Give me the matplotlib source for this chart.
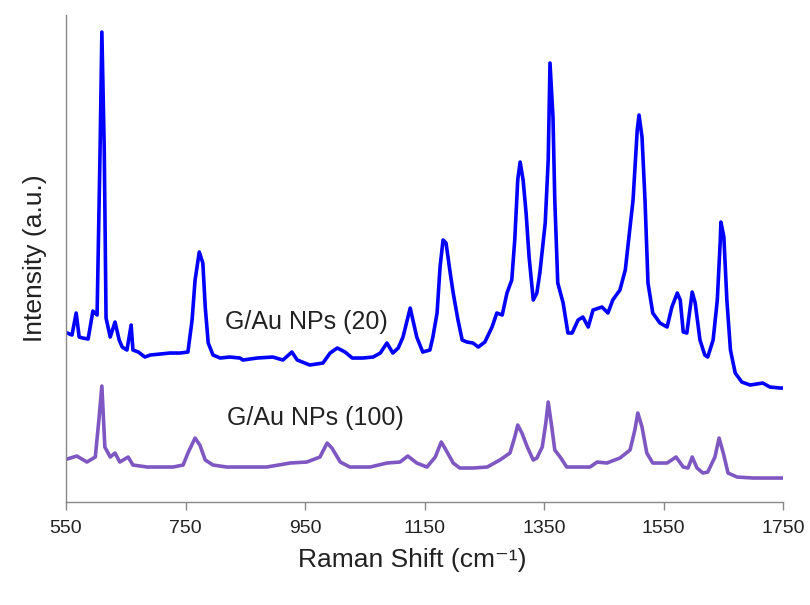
import numpy as np
import matplotlib.pyplot as plt

# Raman spectra (x in cm-1, intensity in a.u.)
shift_20 = [552, 560, 567, 572, 578, 587, 595, 602, 607, 610, 614, 617, 624, 632, 639, 644,
            652, 659, 662, 671, 682, 691, 707, 724, 741, 754, 761, 766, 773, 779, 783, 788,
            796, 808, 824, 841, 846, 870, 896, 913, 928, 937, 958, 980, 992, 1004, 1017, 1029,
            1047, 1064, 1076, 1087, 1097, 1106, 1114, 1126, 1137, 1147, 1159, 1164, 1171, 1176,
            1181, 1186, 1193, 1198, 1206, 1213, 1221, 1231, 1240, 1251, 1263, 1271, 1280, 1288,
            1296, 1301, 1306, 1310, 1315, 1320, 1325, 1332, 1338, 1343, 1352, 1357, 1360, 1365,
            1368, 1373, 1382, 1390, 1397, 1407, 1415, 1424, 1432, 1447, 1457, 1465, 1477, 1486,
            1491, 1499, 1506, 1509, 1514, 1519, 1524, 1532, 1544, 1556, 1564, 1573, 1578, 1583,
            1589, 1598, 1603, 1611, 1619, 1624, 1633, 1640, 1645, 1646, 1651, 1656, 1662, 1670,
            1681, 1695, 1716, 1728, 1745, 1750]
inten_20 = [169, 167, 189, 165, 164, 163, 191, 187, 352, 470, 352, 184, 165, 180, 162, 155,
            152, 177, 152, 150, 145, 147, 148, 149, 149, 150, 182, 222, 250, 239, 195, 159,
            147, 144, 145, 144, 142, 144, 145, 142, 150, 142, 137, 139, 149, 154, 150, 144,
            144, 145, 149, 159, 149, 154, 165, 194, 165, 150, 152, 165, 189, 235,
            262, 259, 229, 209, 182, 162, 160, 159, 155, 160, 175, 189, 187, 209,
            222, 262, 322, 340, 322, 289, 245, 202, 209, 229, 279, 342, 439, 385,
            302, 219, 199, 169, 169, 182, 185, 175, 192, 195, 189, 202, 212, 232,
            259, 302, 372, 387, 365, 302, 219, 189, 179, 175, 195, 209, 202, 170,
            169, 210, 199, 162, 147, 145, 162, 202, 262, 280, 265, 202, 152, 129,
            120, 117, 119, 115, 114, 114]

shift_100 = [552, 568, 585, 599, 605, 610, 615, 624, 632, 640, 654, 662, 686, 707, 729, 746,
             754, 766, 774, 783, 796, 819, 853, 886, 925, 953, 975, 987, 995, 1009, 1025, 1059,
             1087, 1109, 1122, 1137, 1154, 1168, 1178, 1184, 1198, 1209, 1231, 1255, 1276, 1293,
             1301, 1306, 1313, 1322, 1332, 1338, 1347, 1353, 1357, 1363, 1368, 1377, 1388, 1405,
             1427, 1439, 1455, 1477, 1494, 1502, 1507, 1514, 1522, 1532, 1556, 1571, 1583, 1591,
             1598, 1606, 1616, 1624, 1636, 1643, 1650, 1658, 1673, 1700, 1728, 1750]
inten_100 = [43, 46, 40, 45, 82, 116, 55, 45, 49, 40, 45, 37, 35, 35, 35, 37,
             49, 64, 57, 42, 37, 35, 35, 35, 39, 40, 45, 59, 54, 40, 35, 35,
             39, 40, 46, 39, 35, 45, 60, 54, 39, 34, 34, 35, 42, 49,
             65, 77, 69, 55, 42, 44, 55, 79, 100, 75, 52, 45, 35, 35,
             35, 40, 39, 44, 52, 72, 89, 75, 49, 39, 39, 45, 35, 34,
             45, 34, 29, 30, 45, 64, 49, 29, 25, 24, 24, 24]

xticks = [550, 750, 950, 1150, 1350, 1550, 1750]

font = ['Liberation Sans', 'DejaVu Sans']

fig = plt.figure(figsize=(8.1, 6.05), dpi=100)
ax = fig.add_axes([0.0815, 0.1702, 0.8852, 0.8050])

ax.plot(shift_20, inten_20, color='#0000FF', lw=2.6, solid_joinstyle='round')
ax.plot(shift_100, inten_100, color='#7E57C2', lw=2.6, solid_joinstyle='round')

ax.text(953, 180, 'G/Au NPs (20)', fontsize=18, family=font,
        color='#222222', ha='center', va='center')
ax.text(967, 84, 'G/Au NPs (100)', fontsize=18, family=font,
        color='#222222', ha='center', va='center')

ax.set_xlim(550, 1750)
ax.set_ylim(0, 487)
ax.set_xticks(xticks)
ax.set_xticklabels([str(t) for t in xticks], family=font, fontsize=14, color='#222222')
ax.set_yticks([])
ax.tick_params(axis='x', direction='out', length=6, width=1, color='#888888', pad=7)

for s in ['top', 'right']:
    ax.spines[s].set_visible(False)
for s in ['left', 'bottom']:
    ax.spines[s].set_color('#888888')
    ax.spines[s].set_linewidth(1.0)

ax.set_xlabel('Raman Shift (cm\u207b\u00b9)', family=font, fontsize=19, color='#222222')
ax.set_ylabel('Intensity (a.u.)', family=font, fontsize=19, labelpad=14, color='#222222')
ax.xaxis.set_label_coords(0.483, -0.095)

fig.savefig('out.png', dpi=100)
